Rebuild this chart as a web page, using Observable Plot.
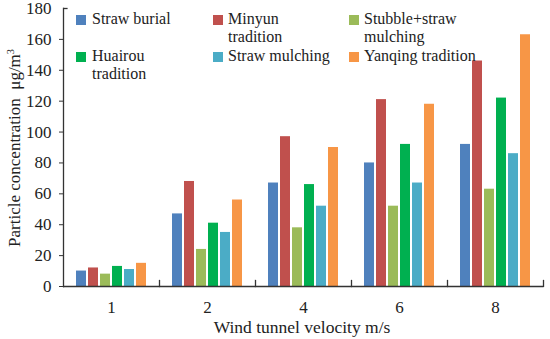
<!DOCTYPE html>
<html>
<head>
<meta charset="utf-8">
<script src="https://cdn.jsdelivr.net/npm/d3@7"></script>
<script src="https://cdn.jsdelivr.net/npm/@observablehq/plot@0.6"></script>
<style>
  html, body { margin: 0; padding: 0; background: #fff; }
  #wrap { position: relative; width: 550px; height: 339px; font-family: "Liberation Serif", "Times New Roman", serif; color: #222; }
  #wrap svg { position: absolute; left: 0; top: 0; }
  .leg { position: absolute; font-size: 16px; line-height: 18.5px; white-space: nowrap; }
  .sw { position: absolute; width: 10px; height: 10px; }
  .ytitle { position: absolute; font-size: 17px; white-space: nowrap; transform: translate(-50%, -50%) rotate(-90deg); }
  .xtitle { position: absolute; font-size: 17.5px; line-height: 1; white-space: nowrap; transform: translateX(-50%); }
</style>
</head>
<body>
<div id="wrap"></div>
<script>
const velocities = [1, 2, 4, 6, 8];
const seriesNames = ["Straw burial", "Minyun tradition", "Stubble+straw mulching", "Huairou tradition", "Straw mulching", "Yanqing tradition"];
const legendLabels = ["Straw burial", "Minyun<br>tradition", "Stubble+straw<br>mulching", "Huairou<br>tradition", "Straw mulching", "Yanqing tradition"];
const strawBurial = [10, 47, 67, 80, 92];
const minyunTradition = [12, 68, 97, 121, 146];
const stubbleStrawMulching = [8, 24, 38, 52, 63];
const huairouTradition = [13, 41, 66, 92, 122];
const strawMulching = [11, 35, 52, 67, 86];
const yanqingTradition = [15, 56, 90, 118, 163];
const colors = ["#4F81BD", "#C0504D", "#9BBB59", "#00B050", "#4BACC6", "#F79646"];
const yTicks = [0, 20, 40, 60, 80, 100, 120, 140, 160, 180];

const allSeries = [strawBurial, minyunTradition, stubbleStrawMulching, huairouTradition, strawMulching, yanqingTradition];
const data = [];
velocities.forEach((v, i) => {
  seriesNames.forEach((s, j) => data.push({v, s, value: allSeries[j][i]}));
});

const W = 550, H = 339, mL = 62, mR = 6, mT = 8, mB = 53;
const plotH = H - mT - mB;
const facetW = (W - mL - mR) / velocities.length;

const chart = Plot.plot({
  width: W, height: H,
  marginLeft: mL, marginRight: mR, marginTop: mT, marginBottom: mB,
  style: {fontFamily: "'Liberation Serif', 'Times New Roman', serif", color: "#222", background: "transparent"},
  fx: {domain: velocities, padding: 0, label: null},
  x: {domain: seriesNames, axis: null, paddingInner: 0.16, paddingOuter: 0.89},
  y: {domain: [0, 180], label: null},
  color: {domain: seriesNames, range: colors},
  marks: [
    Plot.barY(data, {fx: "v", x: "s", y: "value", fill: "s"}),
    Plot.ruleY([0], {stroke: "#333", strokeWidth: 1.3}),
    Plot.frame({anchor: "right", insetTop: plotH - 6, stroke: "#333", strokeWidth: 1.3}),
    Plot.frame({anchor: "left", facetAnchor: "left", stroke: "#333", strokeWidth: 1.3}),
    Plot.tickY([180], {y: d => d, facetAnchor: "left", insetRight: facetW - 5, stroke: "#333", strokeWidth: 1.3}),
    Plot.axisY({ticks: yTicks.slice(0, -1), tickSize: 4, tickPadding: 8, fontSize: 17, label: null, stroke: "#333"}),
    Plot.axisY({ticks: [180], tickSize: 0, tickPadding: 12, fontSize: 17, label: null}),
    Plot.axisFx({anchor: "bottom", tickSize: 0, tickPadding: 14, fontSize: 17, label: null})
  ]
});

const wrap = document.getElementById("wrap");
wrap.appendChild(chart);

// legend (inside plot area, 3 columns x 2 rows)
const colSw = [76, 213, 349];
const colTx = [92, 228, 364];
const rowTop = [9.5, 46.5];
seriesNames.forEach((s, i) => {
  const c = i % 3, r = Math.floor(i / 3);
  const sw = document.createElement("div");
  sw.className = "sw";
  sw.style.left = colSw[c] + "px";
  sw.style.top = (rowTop[r] + 5) + "px";
  sw.style.background = colors[i];
  wrap.appendChild(sw);
  const t = document.createElement("div");
  t.className = "leg";
  t.style.left = colTx[c] + "px";
  t.style.top = rowTop[r] + "px";
  t.innerHTML = legendLabels[i];
  wrap.appendChild(t);
});

const yt = document.createElement("div");
yt.className = "ytitle";
yt.style.left = "15px";
yt.style.top = "148px";
yt.innerHTML = "Particle concentration&nbsp; μg/m<sup style='font-size:0.6em;vertical-align:0.6em;line-height:0'>3</sup>";
wrap.appendChild(yt);

const xt = document.createElement("div");
xt.className = "xtitle";
xt.style.left = "302px";
xt.style.top = "319px";
xt.textContent = "Wind tunnel velocity m/s";
wrap.appendChild(xt);
</script>
</body>
</html>
